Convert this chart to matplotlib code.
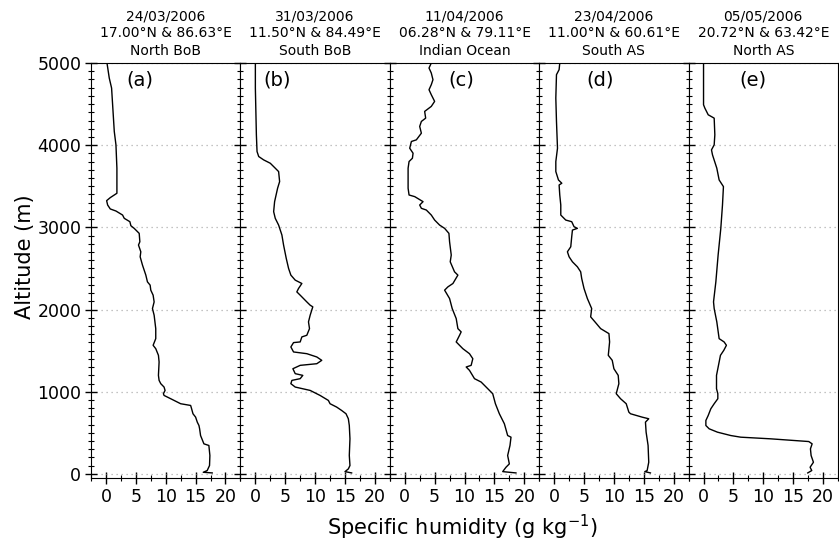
import matplotlib
matplotlib.use("Agg")
import matplotlib.pyplot as plt
from matplotlib.ticker import MultipleLocator

# panel headers
dates = ["24/03/2006", "31/03/2006", "11/04/2006", "23/04/2006", "05/05/2006"]
coords = ["17.00°N & 86.63°E", "11.50°N & 84.49°E", "06.28°N & 79.11°E",
          "11.00°N & 60.61°E", "20.72°N & 63.42°E"]
regions = ["North BoB", "South BoB", "Indian Ocean", "South AS", "North AS"]
tags = ["(a)", "(b)", "(c)", "(d)", "(e)"]

# specific humidity (g/kg) vs altitude (m)
q_a = [0.17, 0.55, 0.94, 1.39, 1.67, 1.83, 1.83, 1.39, 0.72, 0.11, 0.28, 0.72, 1.67, 2.78,
       3.06, 4.0, 4.17, 4.72, 5.56, 5.67, 5.44, 5.83, 5.72, 6.11, 6.67, 6.94, 7.39, 7.5,
       7.89, 8.06, 7.78, 8.06, 8.33, 8.33, 7.89, 8.33, 8.78, 8.89, 8.78, 8.89, 9.17, 9.72,
       9.89, 9.61, 9.72, 10.83, 12.5, 14.17, 14.33, 14.56, 15.0, 15.28, 15.56, 15.67,
       15.83, 16.39, 17.22, 17.39, 17.33, 16.94, 16.28, 17.78]
z_a = [5000, 4817, 4695, 4167, 4004, 3720, 3415, 3394, 3362, 3325, 3272, 3224, 3199, 3150,
       3110, 3069, 3020, 2988, 2927, 2825, 2785, 2703, 2642, 2541, 2419, 2337, 2297, 2236,
       2175, 2093, 2012, 1931, 1768, 1646, 1565, 1524, 1443, 1362, 1199, 1138, 1098, 1057,
       1016, 976, 955, 915, 854, 833, 793, 732, 691, 630, 589, 549,
       467, 366, 346, 224, 102, 41, 20, 12]

q_b = [0.0, 0.0, 0.17, 0.28, 0.56, 1.39, 2.5, 3.33, 3.89, 4.06, 3.72, 3.22, 3.06, 3.33,
       3.89, 4.44, 4.72, 5.17, 5.56, 5.94, 6.67, 7.78, 7.22, 6.94, 7.5, 8.61, 9.17, 9.61,
       9.17, 8.89, 9.06, 8.61, 7.78, 7.5, 6.39, 5.94, 6.39, 8.61, 10.28, 11.11, 10.28, 7.5,
       6.28, 6.67, 7.94, 7.5, 6.11, 5.94, 6.67, 9.17, 10.83, 12.22, 12.5, 13.61, 14.44,
       15.17, 15.56, 15.72, 15.83, 15.72, 15.83, 15.56, 15.0, 16.11]
z_b = [5000, 4695, 4126, 3923, 3862, 3821, 3780, 3720, 3679, 3557, 3476, 3313, 3191, 3110,
       3028, 2907, 2785, 2622, 2500, 2419, 2358, 2317, 2256, 2215, 2175, 2093, 2053, 2033,
       1931, 1850, 1768, 1687, 1667, 1606, 1598, 1545, 1484, 1463, 1423, 1382, 1341, 1321,
       1280, 1220, 1199, 1159, 1138, 1098, 1057, 1016, 955, 894, 854, 813, 772,
       732, 671, 589, 427, 224, 102, 61, 28, 12]

q_c = [4.44, 4.06, 4.44, 4.72, 4.44, 4.06, 4.44, 5.0, 4.44, 3.33, 3.5, 2.78, 2.5, 2.78,
       1.94, 1.11, 0.83, 1.39, 1.28, 0.72, 0.56, 0.56, 0.72, 1.67, 3.06, 2.5, 2.78, 3.61,
       4.44, 5.0, 5.83, 6.67, 7.39, 7.5, 7.78, 7.61, 8.33, 8.89, 8.06, 7.22, 6.67, 7.5,
       7.94, 8.61, 8.89, 9.44, 9.17, 8.61, 9.72, 10.83, 11.39, 11.11, 10.28, 10.83, 11.67,
       12.78, 13.89, 14.72, 15.17, 15.83, 16.67, 17.22, 17.78, 17.61, 17.22, 17.5, 16.94,
       16.39, 18.61]
z_c = [5000, 4939, 4878, 4797, 4736, 4675, 4614, 4533, 4472, 4411, 4329, 4289, 4228, 4146,
       4065, 4045, 3963, 3902, 3841, 3801, 3720, 3476, 3394, 3374, 3313, 3272, 3232, 3211,
       3150, 3089, 3028, 2988, 2927, 2825, 2663, 2581, 2459, 2419, 2317, 2276, 2236, 2134,
       2012, 1890, 1768, 1728, 1687, 1606, 1524, 1463, 1402, 1321, 1301, 1260, 1159,
       1118, 1037, 976, 854, 732, 610, 467, 447, 346, 224, 122, 81,
       28, 12]

q_d = [0.94, 0.83, 0.39, 0.28, 0.39, 0.56, 0.28, 0.28, 0.72, 1.28, 0.83, 0.94, 1.11, 1.11,
       1.94, 2.94, 3.33, 3.89, 3.06, 2.94, 2.78, 2.22, 2.5, 3.06, 3.89, 4.44, 4.61, 5.0,
       5.56, 6.28, 6.11, 6.83, 7.78, 9.17, 9.28, 9.06, 9.72, 10.0, 10.72, 10.83, 10.39,
       11.11, 12.06, 12.5, 12.78, 14.72, 15.83, 15.28, 15.39, 15.72, 15.83, 15.56, 15.17,
       16.11]
z_d = [5000, 4919, 4858, 4573, 4289, 3963, 3801, 3679, 3577, 3537, 3516, 3394, 3272, 3150,
       3089, 3069, 3008, 2988, 2967, 2886, 2764, 2703, 2642, 2581, 2520, 2459, 2378, 2256,
       2134, 2012, 1911, 1850, 1768, 1707, 1606, 1443, 1382, 1280, 1199, 1098, 976,
       915, 854, 752, 732, 691, 671, 630, 508, 346, 142, 41, 28,
       12]

q_e = [0.0, 0.0, 0.22, 0.78, 1.78, 1.89, 1.78, 1.33, 1.5, 2.22, 2.61, 3.33, 3.17, 2.89,
       2.44, 2.06, 1.67, 1.78, 2.22, 2.61, 3.44, 3.83, 3.39, 2.83, 2.39, 2.17, 2.17, 2.39,
       2.39, 1.78, 1.22, 0.78, 0.39, 0.39, 0.94, 2.33, 4.56, 6.22, 11.22, 17.61, 18.17,
       17.89, 18.0, 18.39, 17.83, 18.11, 17.44]
z_e = [5000, 4492, 4451, 4370, 4329, 4126, 4004, 3943, 3882, 3720, 3577, 3496, 3272, 2988,
       2663, 2337, 2093, 2012, 1850, 1646, 1606, 1565, 1504, 1443, 1280, 1199, 1037, 976,
       915, 854, 793, 711, 650, 589, 549, 508, 467, 447, 427, 394, 366,
       305, 224, 142, 81, 41, 12]

profiles = [(q_a, z_a), (q_b, z_b), (q_c, z_c), (q_d, z_d), (q_e, z_e)]
tag_x = [5.7, 3.7, 9.5, 7.7, 8.2]

fig, axes = plt.subplots(1, 5, sharey=True, figsize=(8.39, 5.46), dpi=100)
fig.subplots_adjust(left=0.1085, right=0.9988, bottom=0.1245, top=0.8846, wspace=0)

for i, ax in enumerate(axes):
    q, z = profiles[i]
    ax.plot(q, z, color="black", lw=1.0)
    ax.set_xlim(-2.5, 22.5)
    ax.set_ylim(-50, 5000)
    ax.xaxis.set_major_locator(MultipleLocator(5))
    ax.xaxis.set_minor_locator(MultipleLocator(2.5))
    ax.yaxis.set_major_locator(MultipleLocator(1000))
    ax.yaxis.set_minor_locator(MultipleLocator(100))
    ax.tick_params(which="major", direction="inout", length=8, width=1,
                   labelsize=12.5, pad=3, color="black")
    ax.tick_params(which="minor", direction="inout", length=5, width=0.8)
    ax.tick_params(axis="y", right=False)
    ax.grid(axis="y", which="major", linestyle=(0, (1, 3)), color="#b0b0b0", lw=0.9)
    ax.set_axisbelow(True)
    ax.set_title(f"{dates[i]}\n{coords[i]}\n{regions[i]}", fontsize=10,
                 linespacing=1.3, pad=6)
    ax.text(tag_x[i], 4790, tags[i], fontsize=14, ha="center", va="center")
    if i > 0:
        ax.tick_params(axis="y", labelleft=False)

fig.text(0.03, 1 - 257 / 546, "Altitude (m)", rotation=90, fontsize=15,
         ha="center", va="center")
fig.text(0.551, 1 - 527 / 546, "Specific humidity (g kg$^{-1}$)", fontsize=15,
         ha="center", va="center")

fig.savefig("out.png", dpi=100)
